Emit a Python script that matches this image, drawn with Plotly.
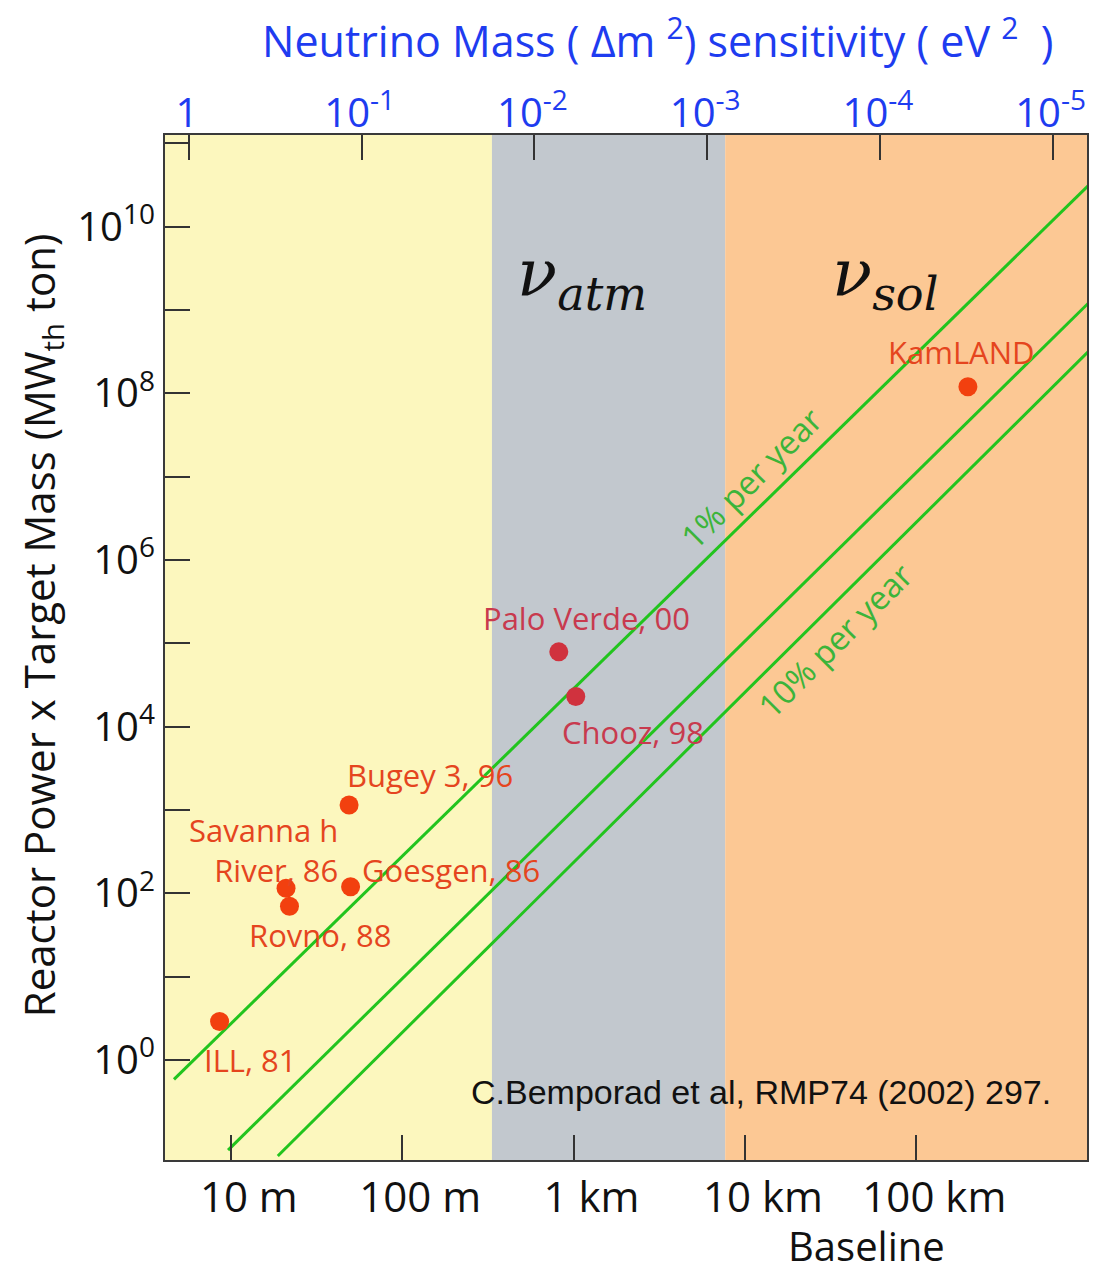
import numpy as np
import plotly.graph_objects as go

# ---------------- data ----------------
experiments = ["ILL, 81", "Savannah River, 86", "Rovno, 88", "Goesgen, 86",
               "Bugey 3, 96", "Palo Verde, 00", "Chooz, 98", "KamLAND"]
baseline_m = [8.6, 21, 22, 50, 49, 820, 1030, 2.0e5]
power_mass = [2.9, 115, 70, 120, 1150, 7.9e4, 2.3e4, 1.2e8]

# sensitivity lines (power x mass vs baseline), endpoints
line1_L = [4.66, 1.03e6]
line1_y = [0.586, 3.25e10]      # 1% per year
line2_L = [9.64, 1.03e6]
line2_y = [0.083, 1.26e9]
line3_L = [18.8, 1.03e6]
line3_y = [0.0705, 3.31e8]      # 10% per year

# region boundaries on the baseline axis (m)
region_edges_m = [334, 7670]

# axis ticks
base_tickvals = [10, 100, 1000, 1e4, 1e5]
base_ticktext = ["10 m", "100 m", "1 km", "10 km", "100 km"]
dm2_tickvals = [1, 1e-1, 1e-2, 1e-3, 1e-4, 1e-5]
dm2_ticktext = ["1", "10<sup>-1</sup>", "10<sup>-2</sup>", "10<sup>-3</sup>",
                "10<sup>-4</sup>", "10<sup>-5</sup>"]
y_tickvals = [10.0 ** k for k in range(0, 12)]
y_ticktext = [("10<sup>%d</sup>" % k) if k % 2 == 0 else "" for k in range(0, 12)]

# ---------------- styles ----------------
X_RANGE = [0.616, 5.996]
X2_RANGE = [0.139, -5.199]
Y_RANGE = [-1.2, 11.1]
SANS = "Open Sans"
GREEN = "#22C41E"
LABEL_GREEN = "#3CB43A"
DOT_RED = "#F2400F"
DOT_CRIMSON = "#D0323E"
TXT_RED = "#E5451E"
TXT_CRIMSON = "#C83A4E"
BLUE = "#1E3CF0"
region_colors = ["#FCF7BE", "#C2C8CE", "#FCC894"]

fig = go.Figure()

# background regions
edges = [10 ** X_RANGE[0]] + region_edges_m + [10 ** X_RANGE[1]]
for i, c in enumerate(region_colors):
    fig.add_shape(type="rect", xref="x", yref="paper", x0=edges[i], x1=edges[i + 1],
                  y0=0, y1=1, fillcolor=c, line_width=0, layer="below")

# sensitivity lines
for Ls, ys in [(line1_L, line1_y), (line2_L, line2_y), (line3_L, line3_y)]:
    fig.add_trace(go.Scatter(x=Ls, y=ys, mode="lines",
                             line=dict(color=GREEN, width=3),
                             showlegend=False, hoverinfo="skip"))

# experiments
dot_colors = [DOT_RED] * 5 + [DOT_CRIMSON] * 2 + [DOT_RED]
fig.add_trace(go.Scatter(x=baseline_m, y=power_mass, mode="markers",
                         marker=dict(size=19, color=dot_colors, line_width=0),
                         text=experiments, showlegend=False))

# invisible trace to carry the top axis
fig.add_trace(go.Scatter(x=[dm2_tickvals[0]], y=[1], xaxis="x2", mode="markers",
                         marker=dict(opacity=0), showlegend=False, hoverinfo="skip"))

# experiment labels (log10 coords for annotations)
label_pos = {
    "ILL, 81": (1.116, 0.0, TXT_RED, "ILL, 81"),
    "Savannah River, 86": (1.635, 2.52, TXT_RED, "Savanna h<br>River, 86"),
    "Rovno, 88": (1.518, 1.50, TXT_RED, "Rovno, 88"),
    "Goesgen, 86": (2.287, 2.28, TXT_RED, "Goesgen, 86"),
    "Bugey 3, 96": (2.164, 3.42, TXT_RED, "Bugey 3, 96"),
    "Palo Verde, 00": (3.073, 5.30, TXT_CRIMSON, "Palo Verde, 00"),
    "Chooz, 98": (3.346, 3.936, TXT_CRIMSON, "Chooz, 98"),
    "KamLAND": (5.262, 8.50, TXT_RED, "KamLAND"),
}
for name in experiments:
    lx, ly, col, txt = label_pos[name]
    xanchor = "right" if name == "Savannah River, 86" else "center"
    fig.add_annotation(x=lx, y=ly, xref="x", yref="y", text=txt, showarrow=False,
                       xanchor=xanchor, yanchor="middle", align="right",
                       font=dict(family=SANS, size=31, color=col))

# line labels
fig.add_annotation(x=4.033, y=6.98, text="1% per year", textangle=-45, showarrow=False,
                   xanchor="center", yanchor="middle",
                   font=dict(family=SANS, size=33, color=LABEL_GREEN))
fig.add_annotation(x=4.523, y=5.04, text="10% per year", textangle=-45, showarrow=False,
                   xanchor="center", yanchor="middle",
                   font=dict(family=SANS, size=33, color=LABEL_GREEN))

# region labels
for lx, sub in [(3.05, "atm"), (4.82, "sol")]:
    fig.add_annotation(x=lx, y=9.38, showarrow=False, xanchor="center", yanchor="middle",
                       text="<i>ν</i><sub><i>%s</i></sub>" % sub,
                       font=dict(family="DejaVu Serif", size=66, color="#111"))

# citation
fig.add_annotation(x=4.092, y=-0.384, text="C.Bemporad et al, RMP74 (2002) 297.",
                   showarrow=False, xanchor="center", yanchor="middle",
                   font=dict(family="Liberation Sans", size=34, color="#111"))

# axis titles
fig.add_annotation(xref="paper", yref="paper", x=0.5346, y=1.0946,
                   xanchor="center", yanchor="middle",
                   text="Neutrino Mass ( Δm <sup>2</sup>) sensitivity ( eV <sup>2</sup>  )",
                   showarrow=False, font=dict(family=SANS, size=43, color=BLUE))
fig.add_annotation(xref="paper", yref="paper", x=0.7608, y=-0.0839, text="Baseline",
                   xanchor="center", yanchor="middle",
                   showarrow=False, font=dict(family=SANS, size=40, color="#111"))
fig.add_annotation(xref="paper", yref="paper", x=-0.1331, y=0.522, textangle=-90,
                   xanchor="center", yanchor="middle",
                   text="Reactor Power x Target Mass (MW<sub>th</sub> ton)",
                   showarrow=False, font=dict(family=SANS, size=42, color="#111"))

axis_common = dict(showline=True, linecolor="#3a3a3a", linewidth=2, ticks="inside",
                   ticklen=25, tickwidth=1.5, tickcolor="#333", showgrid=False,
                   zeroline=False)

fig.update_layout(
    width=1081, height=1264,
    margin=dict(l=157, r=0, t=127, b=112),
    paper_bgcolor="white", plot_bgcolor="white",
    showlegend=False,
    xaxis=dict(type="log", range=X_RANGE, tickvals=base_tickvals, ticktext=base_ticktext,
               tickfont=dict(family=SANS, size=42, color="#111"), ticklabelshift=18,
               mirror=True, **axis_common),
    xaxis2=dict(type="log", range=X2_RANGE, overlaying="x", side="top", anchor="y",
                tickvals=dm2_tickvals, ticktext=dm2_ticktext,
                tickfont=dict(family=SANS, size=40, color=BLUE), ticklabelshift=2,
                ticklabelstandoff=-10,
                **axis_common),
    yaxis=dict(type="log", range=Y_RANGE, tickvals=y_tickvals, ticktext=y_ticktext,
               tickfont=dict(family=SANS, size=40, color="#111"),
               mirror=True, **axis_common),
)

fig.write_html("out.html")
